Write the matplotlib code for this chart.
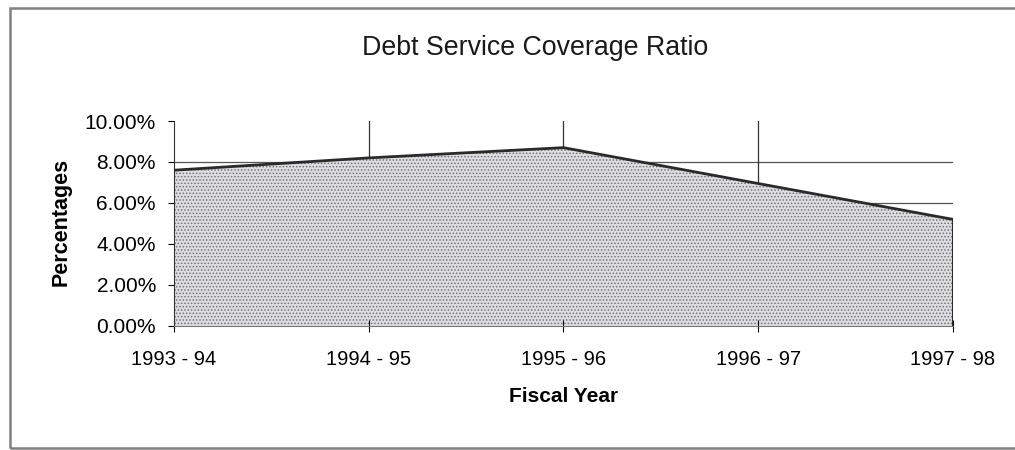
import matplotlib
matplotlib.use('Agg')
import matplotlib.pyplot as plt
from matplotlib.patches import Rectangle
from matplotlib.ticker import PercentFormatter

plt.rcParams['font.family'] = ['Liberation Sans', 'DejaVu Sans']
plt.rcParams['hatch.linewidth'] = 0.7

# Data (percent)
years = ['1993 - 94', '1994 - 95', '1995 - 96', '1996 - 97', '1997 - 98']
ratio = [7.6, 8.2, 8.7, 6.95, 5.2]
y_ticks = [0, 2, 4, 6, 8, 10]

fig = plt.figure(figsize=(10.15, 4.5), dpi=100)
ax = fig.add_axes([0.1714, 0.2756, 0.7675, 0.4555])

x = list(range(len(years)))

# grid sits behind the filled area, like the old spreadsheet chart
for v in y_ticks[1:-1]:
    ax.axhline(v, color='#555555', lw=0.9, zorder=0)
for xi in x[1:-1]:
    ax.axvline(xi, color='#333333', lw=0.9, zorder=0)

ax.fill_between(x, 0, ratio, facecolor='#dedee2', edgecolor='#707070',
                hatch='.....', lw=0, zorder=1)
ax.plot(x, ratio, color='#2a2a2a', lw=2.0, zorder=3, solid_joinstyle='miter')
ax.plot([x[-1], x[-1]], [0, ratio[-1]], color='#2a2a2a', lw=1.5, zorder=3)

ax.set_xlim(x[0], x[-1])
ax.set_ylim(0, 10)
ax.set_xticks(x)
ax.set_xticklabels(years, fontsize=14.5)
ax.set_yticks(y_ticks)
ax.yaxis.set_major_formatter(PercentFormatter(decimals=2))
ax.tick_params(axis='y', labelsize=15, length=4, direction='out', pad=9)
ax.tick_params(axis='x', length=9, direction='inout', pad=13)

for s in ('top', 'right'):
    ax.spines[s].set_visible(False)
ax.spines['left'].set_color('#333333')
ax.spines['bottom'].set_color('#777777')
ax.spines['bottom'].set_linestyle((0, (1, 1)))

ax.set_ylabel('Percentages', fontsize=15.5, fontweight='bold')
ax.yaxis.set_label_coords(-0.131, 0.507)
ax.set_xlabel('Fiscal Year', fontsize=15, fontweight='bold')
ax.xaxis.set_label_coords(0.5, -0.30)
fig.text(0.527, 0.893, 'Debt Service Coverage Ratio', fontsize=19.3,
         ha='center', va='center', color='#1a1a1a')

# outer chart border
fig.add_artist(Rectangle((10 / 1015, 2 / 450), 1.1, 440 / 450, transform=fig.transFigure,
                         fill=False, edgecolor='#808080', lw=1.8))

fig.savefig('out.png', dpi=100)
